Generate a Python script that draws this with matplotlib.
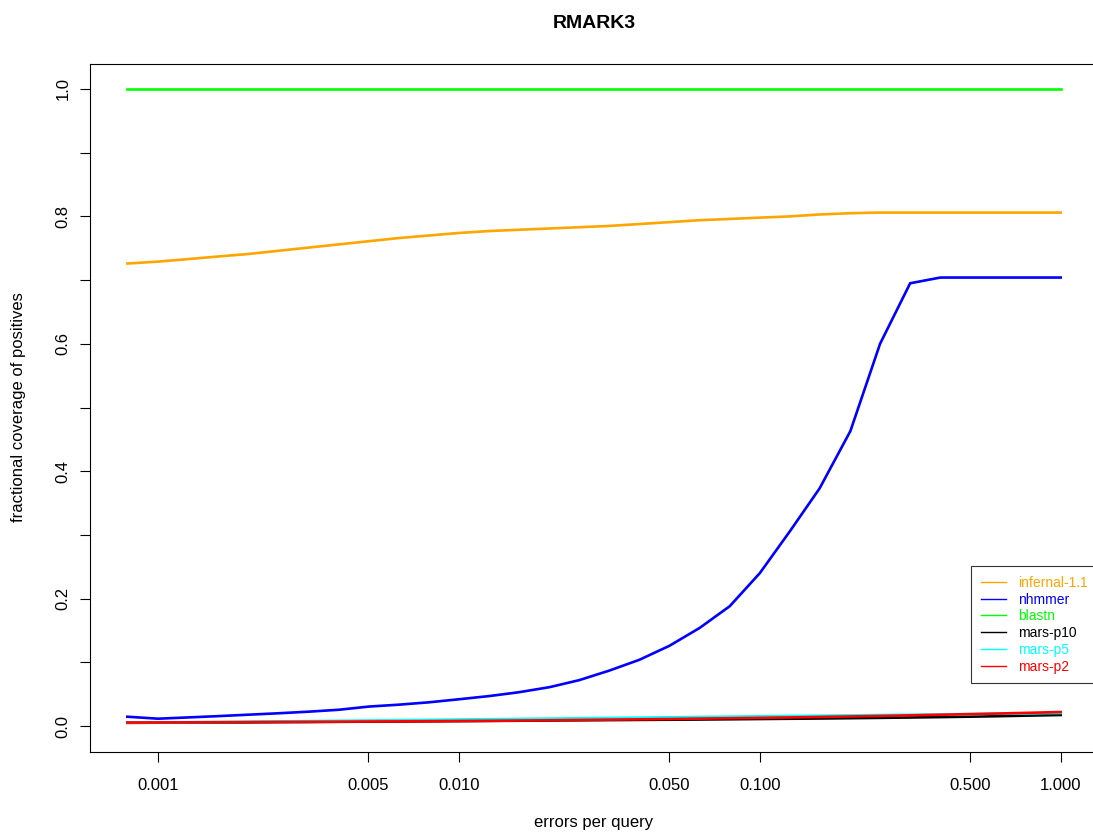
import numpy as np
import matplotlib
matplotlib.use("Agg")
import matplotlib.pyplot as plt

plt.rcParams['font.family'] = ['Liberation Sans', 'DejaVu Sans']

# errors per query (log-spaced thresholds)
errors = [0.00079, 0.001, 0.00126, 0.00158, 0.002, 0.00251, 0.00316, 0.00398,
          0.00501, 0.00631, 0.00794, 0.01, 0.0126, 0.0158, 0.02, 0.0251,
          0.0316, 0.0398, 0.0501, 0.0631, 0.0794, 0.1, 0.126, 0.158,
          0.2, 0.251, 0.316, 0.398, 0.501, 0.631, 0.794, 1.0]

infernal = [0.726, 0.729, 0.733, 0.737, 0.741, 0.746, 0.751, 0.756,
            0.761, 0.766, 0.770, 0.774, 0.777, 0.779, 0.781, 0.783,
            0.785, 0.788, 0.791, 0.794, 0.796, 0.798, 0.800, 0.803,
            0.805, 0.806, 0.806, 0.806, 0.806, 0.806, 0.806, 0.806]

nhmmer = [0.0146, 0.0115, 0.0135, 0.0155, 0.0178, 0.0200, 0.0225, 0.0255,
          0.0305, 0.0335, 0.0372, 0.0420, 0.0470, 0.0530, 0.0610, 0.0720,
          0.0870, 0.1040, 0.1260, 0.1540, 0.1880, 0.2400, 0.3060, 0.3730,
          0.4630, 0.6000, 0.6950, 0.7040, 0.7040, 0.7040, 0.7040, 0.7040]

blastn = [1.0] * 32

mars_p10 = [0.0050, 0.0052, 0.0054, 0.0056, 0.0058, 0.0061, 0.0063, 0.0066,
            0.0069, 0.0071, 0.0074, 0.0077, 0.0080, 0.0083, 0.0087, 0.0090,
            0.0093, 0.0096, 0.0099, 0.0102, 0.0106, 0.0110, 0.0114, 0.0118,
            0.0123, 0.0128, 0.0134, 0.0140, 0.0147, 0.0155, 0.0164, 0.0173]

mars_p5 = [0.0055, 0.0057, 0.0060, 0.0064, 0.0068, 0.0072, 0.0077, 0.0082,
           0.0087, 0.0092, 0.0097, 0.0102, 0.0107, 0.0112, 0.0117, 0.0122,
           0.0127, 0.0132, 0.0137, 0.0142, 0.0147, 0.0152, 0.0157, 0.0162,
           0.0167, 0.0172, 0.0177, 0.0182, 0.0187, 0.0193, 0.0199, 0.0205]

mars_p2 = [0.0055, 0.0056, 0.0058, 0.0060, 0.0062, 0.0064, 0.0066, 0.0068,
           0.0071, 0.0073, 0.0076, 0.0079, 0.0082, 0.0086, 0.0090, 0.0095,
           0.0100, 0.0105, 0.0110, 0.0116, 0.0122, 0.0128, 0.0135, 0.0142,
           0.0150, 0.0158, 0.0167, 0.0177, 0.0187, 0.0197, 0.0208, 0.0220]

series = [("infernal-1.1", infernal, "orange"),
          ("nhmmer", nhmmer, "blue"),
          ("blastn", blastn, "#00ff00"),
          ("mars-p10", mars_p10, "black"),
          ("mars-p5", mars_p5, "cyan"),
          ("mars-p2", mars_p2, "red")]

xticks = [0.001, 0.005, 0.010, 0.050, 0.100, 0.500, 1.000]
yticks = [0.0, 0.1, 0.2, 0.3, 0.4, 0.5, 0.6, 0.7, 0.8, 0.9, 1.0]

fig = plt.figure(figsize=(10.93, 8.32), dpi=100)
# plot region runs a little past the right edge of the canvas
ax = fig.add_axes([90 / 1093, 80.5 / 832, 1008 / 1093, 688 / 832])

for name, vals, col in series:
    ax.plot(errors, vals, color=col, lw=1.9, label=name, solid_joinstyle='miter')

ax.set_xscale('log')
lo, hi = np.log10(errors[0]), np.log10(errors[-1])
pad = 0.04 * (hi - lo)
ax.set_xlim(10 ** (lo - pad), 10 ** (hi + pad))
ax.set_ylim(-0.04, 1.04)

ax.set_xticks(xticks)
ax.set_xticklabels(["%.3f" % t for t in xticks])
ax.xaxis.set_minor_locator(matplotlib.ticker.NullLocator())
ax.set_yticks(yticks)
ax.set_yticklabels(["%.1f" % t if i % 2 == 0 else "" for i, t in enumerate(yticks)],
                   rotation=90, va='center')
ax.tick_params(direction='out', length=7, width=0.8, labelsize=12)
ax.tick_params(axis='x', pad=12)
ax.tick_params(axis='y', pad=7)
for sp in ax.spines.values():
    sp.set_linewidth(0.8)

fig.text(594 / 1093, 1 - 23 / 832, "RMARK3", ha='center', va='center',
         fontsize=14, fontweight='bold')
fig.text(594 / 1093, 1 - 823 / 832, "errors per query", ha='center', va='center',
         fontsize=12)
fig.text(19 / 1093, 1 - 407 / 832, "fractional coverage of positives", ha='center',
         va='center', rotation=90, fontsize=12)

leg = fig.legend(loc='upper left', bbox_to_anchor=(971 / 1093, 1 - 566 / 832),
                 borderaxespad=0, fontsize=10, labelcolor='linecolor',
                 frameon=True, fancybox=False, edgecolor='black',
                 handlelength=1.8, handletextpad=0.9, borderpad=0.7,
                 labelspacing=0.2)
leg.get_frame().set_linewidth(0.8)
for h in leg.get_lines():
    h.set_linewidth(1)

fig.savefig("out.png", dpi=100)
